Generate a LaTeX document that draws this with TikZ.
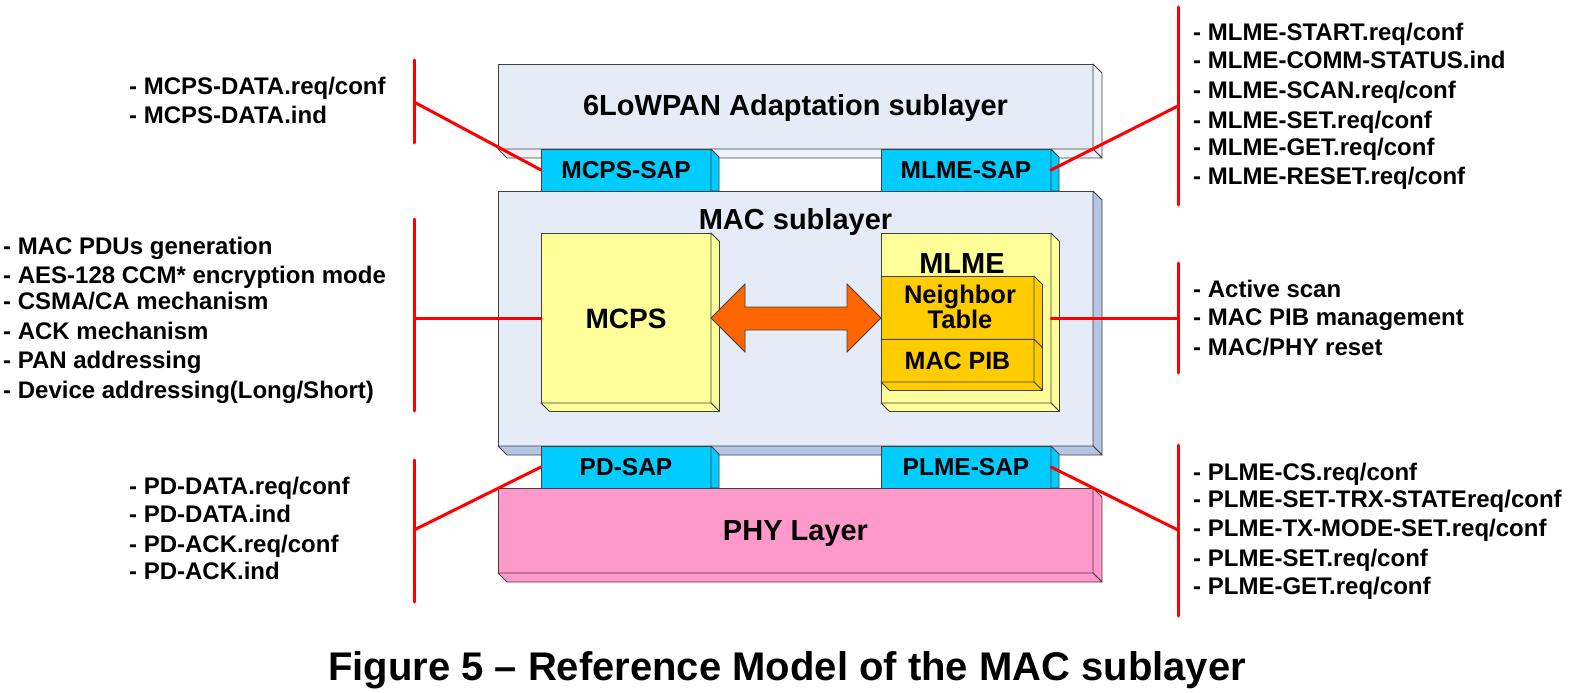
\documentclass[tikz,border=0pt]{standalone}
\usepackage{fontspec}
\setmainfont{Liberation Sans}
\usetikzlibrary{calc}
\definecolor{edge}{HTML}{404040}
\definecolor{layerbg}{HTML}{E6ECF7}
\definecolor{layertop}{HTML}{EDF1F8}
\definecolor{layerside}{HTML}{B4C6E4}
\definecolor{sapc}{HTML}{00CCFF}
\definecolor{phyc}{HTML}{FF99CC}
\definecolor{yel}{HTML}{FFFF99}
\definecolor{gold}{HTML}{FFCC00}
\definecolor{arrowc}{HTML}{FF6600}
\definecolor{redl}{HTML}{FF0000}
\newcommand{\boxdepth}[3]{%
  \filldraw[fill=#3, draw=edge, line width=0.9pt, line join=round] (#1.north east) -- ++(#2,#2) -- ($(#1.south east)+(#2,#2)$) -- (#1.south east) -- cycle;
  \filldraw[fill=#3, draw=edge, line width=0.9pt, line join=round] (#1.south west) -- ++(#2,#2) -- ($(#1.south east)+(#2,#2)$) -- (#1.south east) -- cycle;
}
\newcommand{\sapdepth}[1]{%
  \filldraw[fill=sapc, draw=edge, line width=0.9pt, line join=round] (#1.north east) -- ++(8,8) -- ($(#1.south east)+(8,0)$) -- (#1.south east) -- cycle;
}
\begin{document}
\begin{tikzpicture}[x=1pt, y=-1pt,
  box/.style={draw=edge, line width=0.9pt, outer sep=0pt, inner sep=0pt, rectangle},
  layer/.style={box, fill=layerbg, minimum width=595pt},
  sap/.style={box, fill=sapc, minimum width=170pt, minimum height=42pt},
  inner/.style={box, fill=yel, minimum width=170pt, minimum height=170pt},
  gbox/.style={box, fill=gold, minimum width=153pt},
  lbl/.style={font=\fontsize{24}{28}\selectfont\bfseries, anchor=base west, inner sep=0pt},
  boxlbl/.style={font=\fontsize{29}{34}\selectfont\bfseries, anchor=base, inner sep=0pt},
  saplbl/.style={font=\fontsize{24.5}{28}\selectfont\bfseries, anchor=base, inner sep=0pt},
  redline/.style={draw=redl, line width=3pt, line cap=round}]
\useasboundingbox[fill=white] (0,0) rectangle (1582,693);

% layers
\node[layer, minimum height=85pt] (low) at (795.5,106.5) {};
\boxdepth{low}{9}{layertop}
\node[layer, minimum height=255pt] (mac) at (795.5,318.5) {};
\boxdepth{mac}{9}{layerside}
\node[layer, fill=phyc, minimum height=85pt] (phy) at (795.5,530.5) {};
\boxdepth{phy}{9}{phyc}

% SAPs
\node[sap] (mcpssap) at (626,170) {};
\sapdepth{mcpssap}
\node[sap] (mlmesap) at (966,170) {};
\sapdepth{mlmesap}
\node[sap] (pdsap) at (626,467) {};
\sapdepth{pdsap}
\node[sap] (plmesap) at (966,467) {};
\sapdepth{plmesap}

% inner boxes
\node[inner] (mcps) at (626,318) {};
\boxdepth{mcps}{8.5}{yel}
\node[inner] (mlme) at (966,318) {};
\boxdepth{mlme}{8.5}{yel}
\node[gbox, minimum height=63.3pt] (ntab) at (957.5,307.65) {};
\boxdepth{ntab}{8.5}{gold}
\node[gbox, minimum height=42.7pt] (pib) at (957.5,360.65) {};
\boxdepth{pib}{8.5}{gold}

% double arrow
\filldraw[fill=arrowc, draw=edge, line width=0.9pt, line join=miter]
  (mcps.east) -- ++(34,-34) -- ++(0,23) -- ($(mlme.west)+(-34,-11)$) -- ++(0,-23)
  -- (mlme.west) -- ++(-34,34) -- ++(0,-22) -- ($(mcps.east)+(34,12)$) -- ++(0,22) -- cycle;

% box labels
\node[boxlbl] (lowlbl) at (795.5,115) {6LoWPAN Adaptation sublayer};
\node[boxlbl] (maclbl) at (795.5,229) {MAC sublayer};
\node[boxlbl, font=\fontsize{28}{34}\selectfont\bfseries] (mcpslbl) at (626,328) {MCPS};
\node[boxlbl] (mlmelbl) at (962,273) {MLME};
\node[boxlbl, font=\fontsize{25.5}{30}\selectfont\bfseries] (ntablbl1) at (960,303) {Neighbor};
\node[boxlbl, font=\fontsize{25.5}{30}\selectfont\bfseries] (ntablbl2) at (960,328) {Table};
\node[boxlbl, font=\fontsize{25}{30}\selectfont\bfseries] (piblbl) at (957.5,369) {MAC PIB};
\node[boxlbl] (phylbl) at (795.5,540) {PHY Layer};
\node[saplbl] (mcpssaplbl) at (626,178) {MCPS-SAP};
\node[saplbl] (mlmesaplbl) at (966,178) {MLME-SAP};
\node[saplbl] (pdsaplbl) at (626,475) {PD-SAP};
\node[saplbl] (plmesaplbl) at (966,475) {PLME-SAP};

% bracket coordinates
\coordinate (lt1) at (414,60);   \coordinate (lt2) at (414,143);  \coordinate (ltj) at (414,102);
\coordinate (lm1) at (414,219);  \coordinate (lm2) at (414,411);  \coordinate (lmj) at (414,318);
\coordinate (lb1) at (414,460);  \coordinate (lb2) at (414,602);  \coordinate (lbj) at (414,530);
\coordinate (rt1) at (1178,7);   \coordinate (rt2) at (1178,205); \coordinate (rtj) at (1178,106);
\coordinate (rm1) at (1178,263); \coordinate (rm2) at (1178,373); \coordinate (rmj) at (1178,318);
\coordinate (rb1) at (1178,445); \coordinate (rb2) at (1178,616); \coordinate (rbj) at (1178,530);

\draw[redline] (lt1) -- (lt2);  \draw[redline] (ltj) -- (mcpssap.west);
\draw[redline] (lm1) -- (lm2);  \draw[redline] (lmj) -- (mcps.west);
\draw[redline] (lb1) -- (lb2);  \draw[redline] (lbj) -- (pdsap.west);
\draw[redline] (rt1) -- (rt2);  \draw[redline] (rtj) -- (mlmesap.east);
\draw[redline] (rm1) -- (rm2);  \draw[redline] (rmj) -- (mlme.east);
\draw[redline] (rb1) -- (rb2);  \draw[redline] (rbj) -- (plmesap.east);

% left lists
\node[lbl] (ta1) at (129,95) {- MCPS-DATA.req/conf};
\node[lbl] (ta2) at (129,123) {- MCPS-DATA.ind};

\node[lbl] (tb1) at (3,254) {- MAC PDUs generation};
\node[lbl] (tb2) at (3,283) {- AES-128 CCM* encryption mode};
\node[lbl] (tb3) at (3,309) {- CSMA/CA mechanism};
\node[lbl] (tb4) at (3,339) {- ACK mechanism};
\node[lbl] (tb5) at (3,368) {- PAN addressing};
\node[lbl] (tb6) at (3,398) {- Device addressing(Long/Short)};

\node[lbl] (tc1) at (129,494) {- PD-DATA.req/conf};
\node[lbl] (tc2) at (129,522) {- PD-DATA.ind};
\node[lbl] (tc3) at (129,552) {- PD-ACK.req/conf};
\node[lbl] (tc4) at (129,579) {- PD-ACK.ind};

% right lists
\node[lbl] (td1) at (1193,41) {- MLME-START.req/conf};
\node[lbl] (td2) at (1193,69) {- MLME-COMM-STATUS.ind};
\node[lbl] (td3) at (1193,98) {- MLME-SCAN.req/conf};
\node[lbl] (td4) at (1193,128) {- MLME-SET.req/conf};
\node[lbl] (td5) at (1193,155) {- MLME-GET.req/conf};
\node[lbl] (td6) at (1193,184) {- MLME-RESET.req/conf};

\node[lbl] (te1) at (1193,297) {- Active scan};
\node[lbl] (te2) at (1193,325) {- MAC PIB management};
\node[lbl] (te3) at (1193,355) {- MAC/PHY reset};

\node[lbl] (tf1) at (1193,480) {- PLME-CS.req/conf};
\node[lbl] (tf2) at (1193,507) {- PLME-SET-TRX-STATEreq/conf};
\node[lbl] (tf3) at (1193,536) {- PLME-TX-MODE-SET.req/conf};
\node[lbl] (tf4) at (1193,566) {- PLME-SET.req/conf};
\node[lbl] (tf5) at (1193,594) {- PLME-GET.req/conf};

% caption
\node[font=\fontsize{40}{46}\selectfont\bfseries, anchor=base, inner sep=0pt] (caption) at (787,680) {Figure 5 – Reference Model of the MAC sublayer};
\end{tikzpicture}
\end{document}
